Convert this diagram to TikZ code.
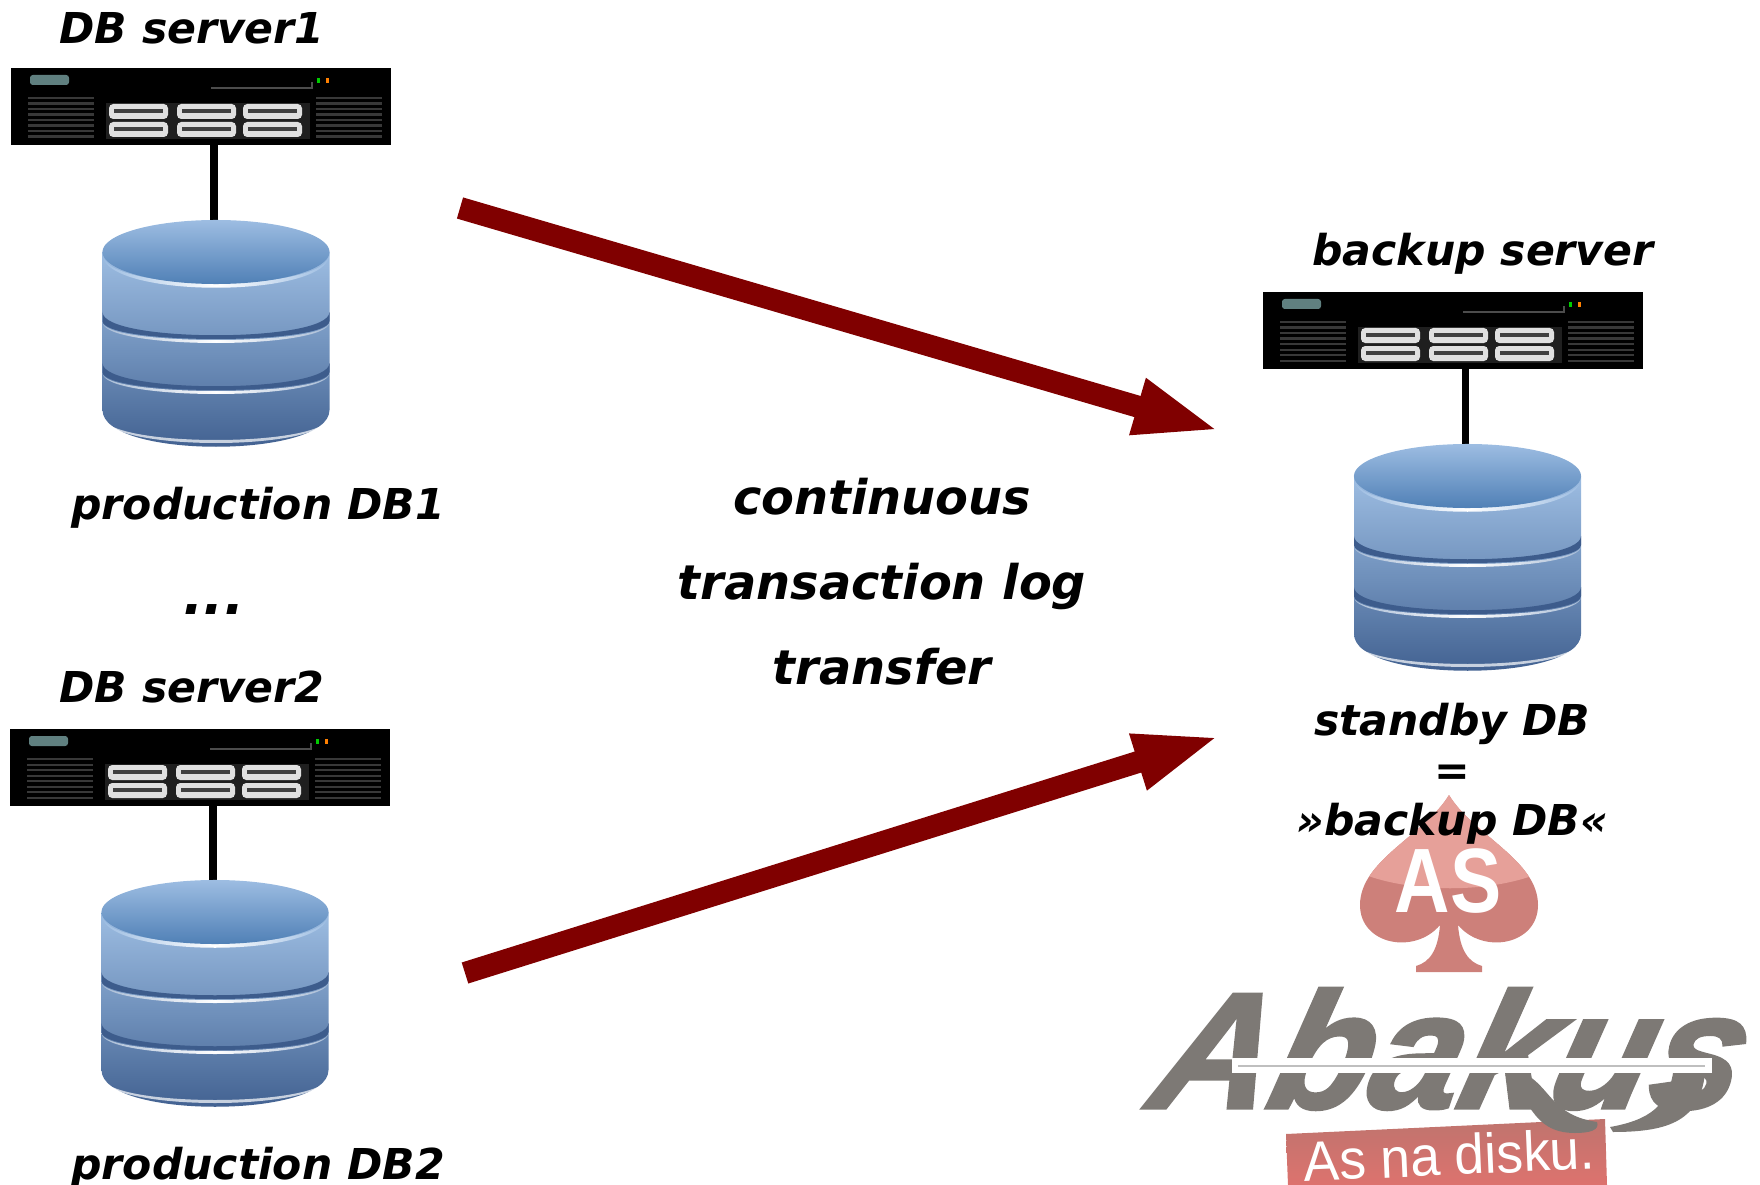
\documentclass[tikz,border=0pt]{standalone}
\usepackage{fontspec}
\setmainfont{DejaVu Sans}
\newfontfamily\logofont{Liberation Sans}
\newfontfamily\abakusfont{Liberation Sans}[BoldItalicFeatures={FakeBold=2}]
\usetikzlibrary{arrows.meta}
\definecolor{arrowred}{HTML}{800000}
\definecolor{dbdark}{HTML}{3D5C8C}
\definecolor{dbtop}{HTML}{9DBDE2}
\definecolor{dbmid}{HTML}{6E8FBA}
\definecolor{dbcap}{HTML}{5080B6}
\definecolor{logogray}{HTML}{7D7975}
\definecolor{logored}{HTML}{C97A74}
\definecolor{logolight}{HTML}{E6A099}
\tikzset{
  lbl/.style={font=\fontsize{12.1pt}{14pt}\selectfont\bfseries\itshape},
  bigtxt/.style={font=\fontsize{13.6pt}{24.2pt}\selectfont\bfseries\itshape,align=center},
  stby/.style={font=\fontsize{12.1pt}{14.2pt}\selectfont\bfseries\itshape,align=center},
  hostbox/.style={fill=black,minimum width=3.8cm,minimum height=.77cm,inner sep=0pt,anchor=north west},
  link/.style={line width=.073cm},
  logarrow/.style={arrowred,line width=.22cm,-{Triangle[length=.87cm,width=.52cm]}},
  bay/.style={fill=black!12,rounded corners=1.2pt},
  pics/rackfront/.style={code={
    \fill[fill=teal!25!gray,rounded corners=.8pt] (20,8) rectangle (59,18);
    \draw[black!70,line width=.3pt] (201,21) -- (302,21) -- (302,15);
    \fill[green!80!black] (307,11) rectangle (310,16);
    \fill[orange] (316,11) rectangle (319,16);
    \foreach \yy in {30,35.5,...,70} {
      \fill[black!78] (18,\yy) rectangle (84,\yy+2.2);
      \fill[black!78] (306,\yy) rectangle (372,\yy+2.2);
    }
    \fill[black!88] (96,36) rectangle (300,72);
    \foreach \xx in {99,167,233} {
      \foreach \yy in {37,55} {
        \fill[bay] (\xx,\yy) rectangle (\xx+59,\yy+15);
        \fill[black!75] (\xx+5,\yy+5) rectangle (\xx+54,\yy+9);
      }
    }
  }},
  pics/dbstack/.style={code={
    \shade[top color=dbtop,bottom color=dbdark,middle color=dbmid] (-113.5,0) -- (-113.5,158)
      .. controls (-113.5,207) and (113.5,207) .. (113.5,158) -- (113.5,0) -- cycle;
    \fill[white,opacity=.7] (-113.5,164) .. controls (-113.5,200) and (113.5,200) .. (113.5,164)
      .. controls (113.5,196) and (-113.5,196) .. cycle;
    \foreach \yy in {60,111} {
      \fill[dbdark] (-113.5,\yy) .. controls (-113.5,\yy+31) and (113.5,\yy+31) .. (113.5,\yy)
        -- (113.5,\yy+9) .. controls (113.5,\yy+33) and (-113.5,\yy+33) .. (-113.5,\yy+9) -- cycle;
      \shade[left color=dbmid!60!white,right color=dbmid!60!white,middle color=white]
        (-113.5,\yy+10) .. controls (-113.5,\yy+34) and (113.5,\yy+34) .. (113.5,\yy+10)
        .. controls (113.5,\yy+38) and (-113.5,\yy+38) .. cycle;
    }
    \shade[left color=dbtop,right color=dbtop,middle color=white]
      (-113.5,2) .. controls (-113.5,41) and (113.5,41) .. (113.5,2)
      .. controls (113.5,47) and (-113.5,47) .. cycle;
    \shade[top color=dbtop,bottom color=dbcap] (0,0) ellipse [x radius=1.135cm,y radius=.32cm];
  }}
}
\begin{document}
\begin{tikzpicture}[x=.01cm,y=-.01cm]
  \useasboundingbox (0,0) rectangle (1760,1185);
  % logo
  \begin{scope}
    \clip (1449,795) .. controls (1425,835) and (1360,860) .. (1360,905)
      .. controls (1360,945) and (1415,955) .. (1440,925)
      .. controls (1438,950) and (1430,962) .. (1416,966) -- (1416,972) -- (1482,972) -- (1482,966)
      .. controls (1468,962) and (1460,950) .. (1458,925)
      .. controls (1483,955) and (1538,945) .. (1538,905)
      .. controls (1538,860) and (1473,835) .. (1449,795) -- cycle;
    \fill[logored!85!logolight] (1350,785) rectangle (1550,980);
    \fill[logolight] (1350,785) -- (1550,785) -- (1550,868) .. controls (1500,895) and (1400,895) .. (1350,868) -- cycle;
  \end{scope}
  \node[text=white,inner sep=0pt,xscale=.84] (aslogo) at (1448,881) {\logofont\fontsize{26pt}{26pt}\selectfont\bfseries AS};
  \shade[top color=logored!95!black,bottom color=logolight!70!red!85!gray] (1286,1134) -- (1605,1119) -- (1607,1185) -- (1288,1185) -- cycle;
  \node[text=white,inner sep=0pt,rotate=2.5,xscale=.95] (asnadisku) at (1449,1155) {\logofont\fontsize{16pt}{16pt}\selectfont As na disku.};
  \node[text=logogray,inner sep=0pt,anchor=base west,xslant=.25,xscale=.985] (abakus) at (1145,1108)
    {\abakusfont\fontsize{47pt}{47pt}\selectfont\bfseries\itshape Abakus};
  \fill[white] (1232,1058) rectangle (1712,1073);
  \draw[black!25,line width=.7pt] (1238,1066) -- (1705,1066);
  \fill[logogray] (1505,1075) -- (1523,1073) .. controls (1550,1085) and (1550,1115) .. (1597,1122)
    .. controls (1600,1130) and (1590,1133) .. (1575,1133) .. controls (1530,1133) and (1530,1095) .. cycle;
  \fill[logogray] (1673,1073) -- (1705,1073) .. controls (1700,1120) and (1670,1132) .. (1613,1132)
    -- (1610,1127) .. controls (1650,1120) and (1668,1105) .. cycle;
  % servers
  \node[hostbox] (server1) at (10,67) {};
  \node[hostbox] (server2) at (9,728) {};
  \node[hostbox] (server3) at (1262,291) {};
  \pic at (10,67) {rackfront};
  \pic at (9,728) {rackfront};
  \pic at (1262,291) {rackfront};
  % databases
  \coordinate (db1) at (216,252);
  \coordinate (db2) at (215,912);
  \coordinate (db3) at (1467.5,476);
  \draw[link] ([xshift=-.02cm]server1.south -| db1) -- ([xshift=-.02cm]db1);
  \draw[link] ([xshift=-.02cm]server2.south -| db2) -- ([xshift=-.02cm]db2);
  \draw[link] ([xshift=-.02cm]server3.south -| db3) -- ([xshift=-.02cm]db3);
  \pic at (db1) {dbstack};
  \pic at (db2) {dbstack};
  \pic at (db3) {dbstack};
  % labels
  \node[lbl] (label1) at (192,28) {DB server1};
  \node[lbl] (label2) at (192,687) {DB server2};
  \node[lbl] (label3) at (1483,254) {backup server};
  \node[lbl] (prod1) at (258,508) {production DB1};
  \node[lbl] (prod2) at (258,1168) {production DB2};
  \node[font=\fontsize{15pt}{15pt}\selectfont\bfseries\itshape] (dots) at (214,610) {...};
  \node[bigtxt] (transfer) at (882,582) {continuous\\transaction log\\transfer};
  \node[stby] (standby) at (1452,774) {standby DB\\=\\»backup DB«};
  % arrows
  \coordinate (from1) at (460,208);
  \coordinate (to1) at (1221,431);
  \coordinate (from2) at (465,973);
  \coordinate (to2) at (1221,736);
  \draw[logarrow] (from1) -- (to1);
  \draw[logarrow] (from2) -- (to2);
\end{tikzpicture}
\end{document}
